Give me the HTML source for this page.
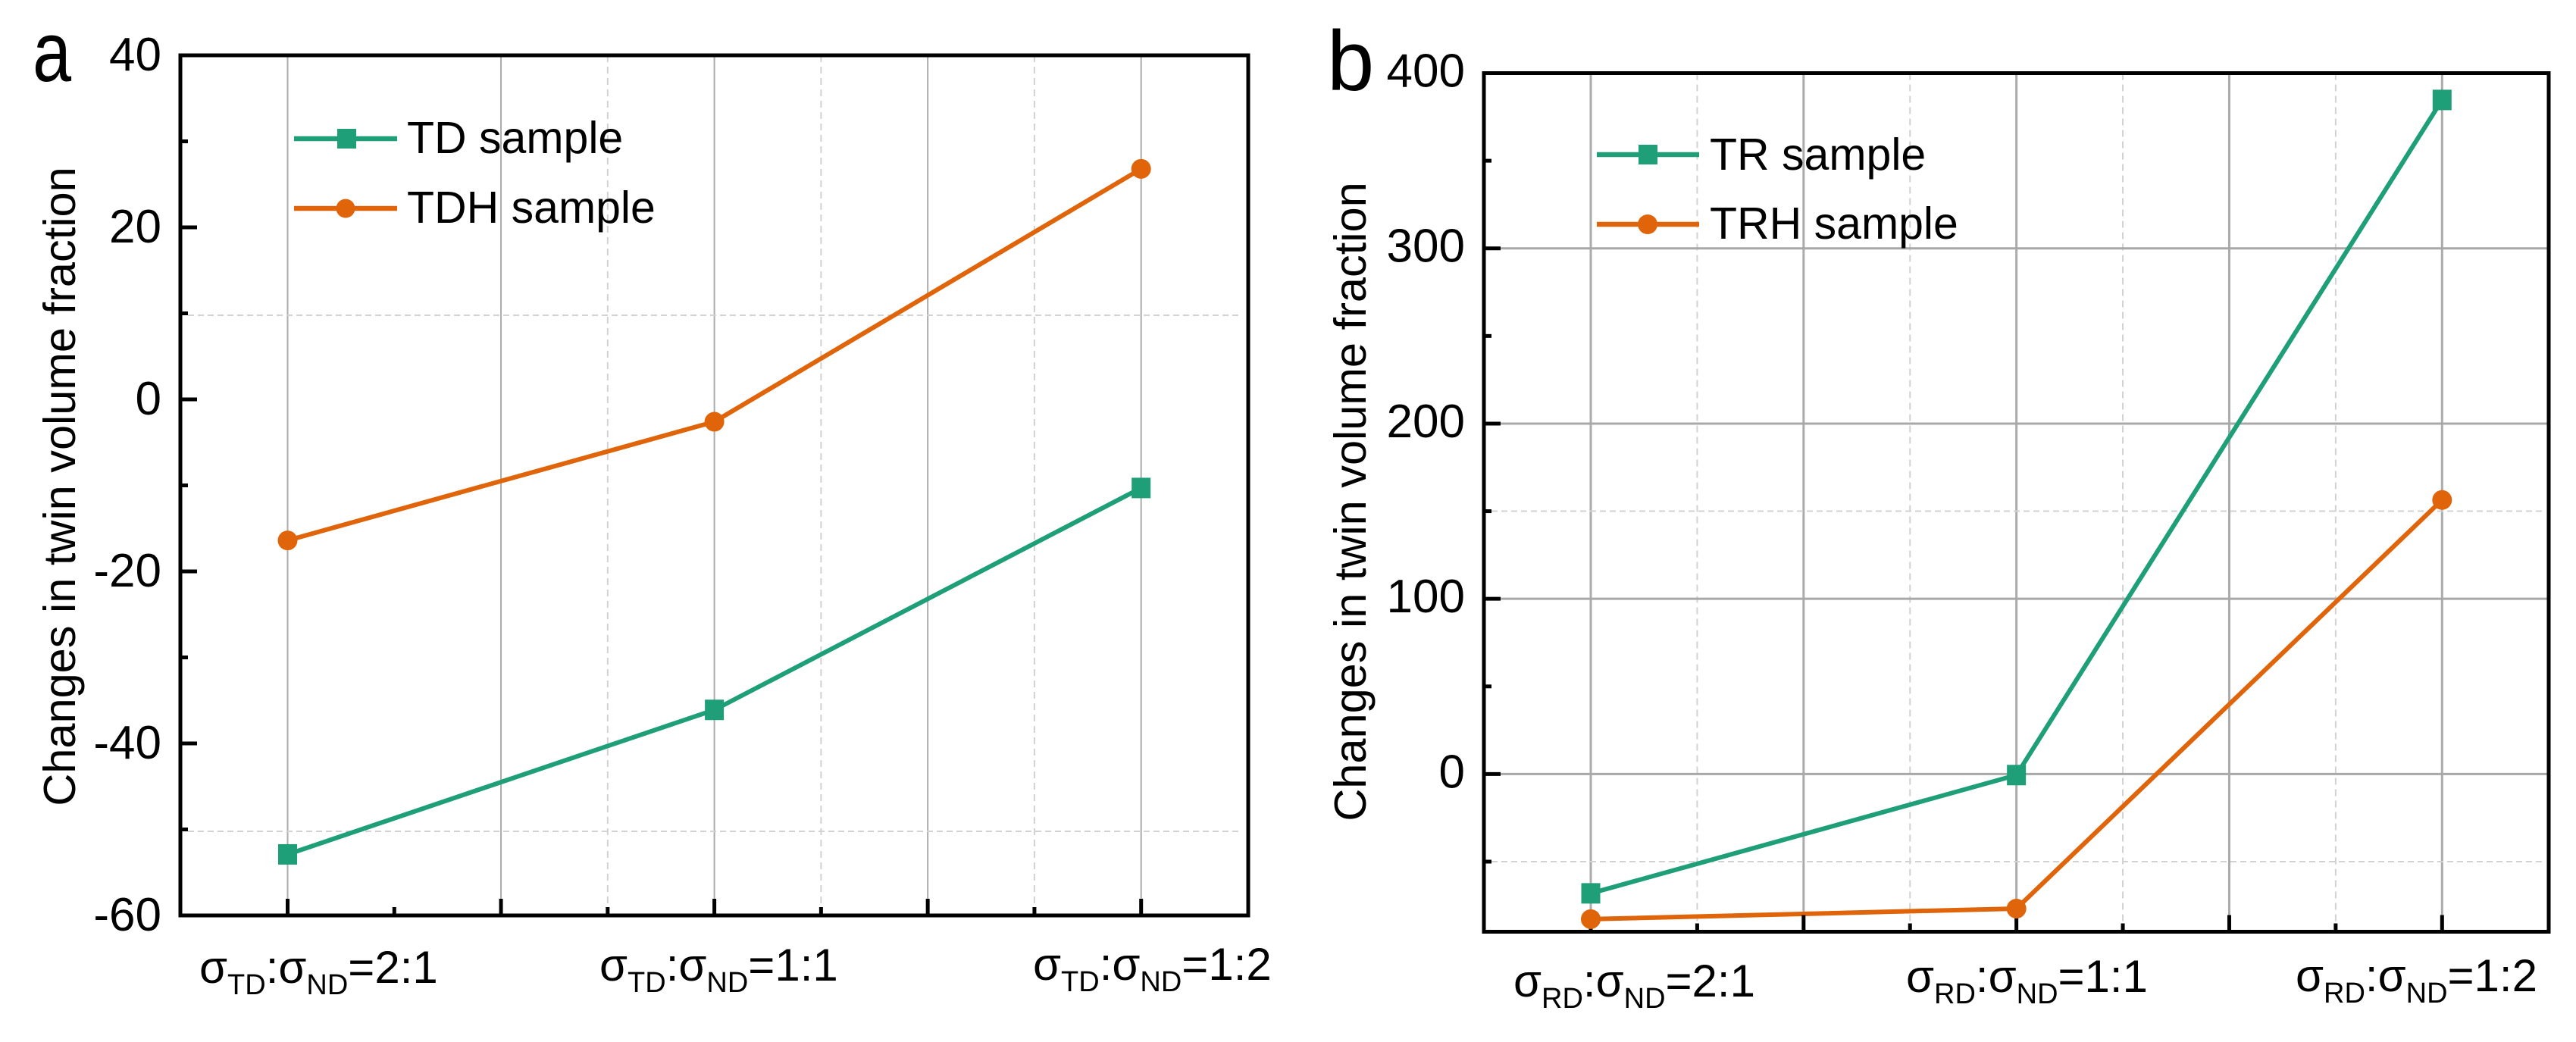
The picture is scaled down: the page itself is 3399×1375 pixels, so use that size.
<!DOCTYPE html>
<html lang="en">
<head>
<meta charset="utf-8">
<title>Changes in twin volume fraction</title>
<style>
  html, body { margin: 0; padding: 0; background: #fff; }
  svg { display: block; }
  text { font-family: "Liberation Sans", Arial, sans-serif; fill: #000; }
</style>
</head>
<body>
<svg id="figure" xmlns="http://www.w3.org/2000/svg" width="3399" height="1375" viewBox="0 0 3399 1375">
  <rect x="0" y="0" width="3399" height="1375" fill="#ffffff"/>
  <g id="panel-a"></g>
  <g id="panel-b"></g>

  <text transform="translate(43 107) scale(0.82 1)" font-size="112">a</text>
  <text x="1751" y="119" font-size="112">b</text>

  <text transform="translate(99 642) rotate(-90)" text-anchor="middle" font-size="59.5">Changes in twin volume fraction</text>
  <text transform="translate(1802 662) rotate(-90)" text-anchor="middle" font-size="59.5">Changes in twin volume fraction</text>

  <text x="263" y="1297" font-size="60">σ<tspan font-size="38" dy="15">TD</tspan><tspan dy="-15">:σ</tspan><tspan font-size="38" dy="15">ND</tspan><tspan dy="-15">=2:1</tspan></text>
  <text x="791" y="1294" font-size="60">σ<tspan font-size="38" dy="15">TD</tspan><tspan dy="-15">:σ</tspan><tspan font-size="38" dy="15">ND</tspan><tspan dy="-15">=1:1</tspan></text>
  <text x="1363" y="1293" font-size="60">σ<tspan font-size="38" dy="15">TD</tspan><tspan dy="-15">:σ</tspan><tspan font-size="38" dy="15">ND</tspan><tspan dy="-15">=1:2</tspan></text>

  <text x="1997" y="1315" font-size="60">σ<tspan font-size="38" dy="15">RD</tspan><tspan dy="-15">:σ</tspan><tspan font-size="38" dy="15">ND</tspan><tspan dy="-15">=2:1</tspan></text>
  <text x="2515" y="1309" font-size="60">σ<tspan font-size="38" dy="15">RD</tspan><tspan dy="-15">:σ</tspan><tspan font-size="38" dy="15">ND</tspan><tspan dy="-15">=1:1</tspan></text>
  <text x="3029" y="1308" font-size="60">σ<tspan font-size="38" dy="15">RD</tspan><tspan dy="-15">:σ</tspan><tspan font-size="38" dy="15">ND</tspan><tspan dy="-15">=1:2</tspan></text>

  <g>
    <g>
      <line x1="388" y1="183" x2="524" y2="183" stroke="#1f9f78" stroke-width="6.5"/>
      <rect x="445" y="170" width="25" height="26" fill="#1f9f78"/>
      <text x="537" y="202" font-size="59">TD sample</text>
    </g>
    <g>
      <line x1="388" y1="275" x2="524" y2="275" stroke="#e0640a" stroke-width="6.5"/>
      <circle cx="456" cy="275" r="12.5" fill="#e0640a"/>
      <text x="537" y="294" font-size="59">TDH sample</text>
    </g>
  </g>

  <g>
    <g>
      <line x1="2107" y1="204" x2="2242" y2="204" stroke="#1f9f78" stroke-width="6.5"/>
      <rect x="2162" y="191" width="25" height="26" fill="#1f9f78"/>
      <text x="2256" y="224" font-size="59">TR sample</text>
    </g>
    <g>
      <line x1="2107" y1="296" x2="2242" y2="296" stroke="#e0640a" stroke-width="6.5"/>
      <circle cx="2174" cy="296" r="13" fill="#e0640a"/>
      <text x="2256" y="315" font-size="59">TRH sample</text>
    </g>
  </g>
</svg>

<script>
// Panel a data
const categoriesA = ["2:1", "1:1", "1:2"];
const tdValues = [-52.9, -36.1, -10.3];
const tdhValues = [-16.4, -2.6, 26.8];
const yTickLabelsA = [40, 20, 0, -20, -40, -60];
const yMinorTicksA = [30, 10, -10, -30, -50];
const yDashedGridA = [10, -50];
const ySolidGridA = [];
const xDashedGridA = [1.75, 2.25, 2.75];

// Panel b data
const categoriesB = ["2:1", "1:1", "1:2"];
const trValues = [-68.1, -0.6, 384.7];
const trhValues = [-82.8, -76.8, 156.4];
const yTickLabelsB = [400, 300, 200, 100, 0];
const yMinorTicksB = [350, 250, 150, 50, -50];
const yDashedGridB = [150, -50];
const ySolidGridB = [300, 200, 100, 0];
const xDashedGridB = [1.25, 1.75, 2.25, 2.75];

// Shared x axis positions (category index units)
const xMajorTicks = [1, 1.5, 2, 2.5, 3];
const xMinorTicks = [1.25, 1.75, 2.25, 2.75];

const GREEN = "#1f9f78";
const ORANGE = "#e0640a";
const NS = "http://www.w3.org/2000/svg";

function make(parent, tag, attrs) {
  const el = document.createElementNS(NS, tag);
  for (const k in attrs) el.setAttribute(k, attrs[k]);
  parent.appendChild(el);
  return el;
}

function drawPanel(p) {
  const g = document.getElementById(p.id);
  const xScale = v => p.x1 + (v - 1) * (p.x3 - p.x1) / 2;
  const yScale = v => p.bottom - (v - p.yMin) * (p.bottom - p.top) / (p.yMax - p.yMin);

  // Grid
  p.xMajor.forEach(v => {
    const el = make(g, "line", { x1: xScale(v), x2: xScale(v), y1: p.top, y2: p.bottom, stroke: "#ababab", "stroke-width": p.gridWidth });
    
    
  });
  p.xDashed.forEach(v => {
    const el = make(g, "line", { x1: xScale(v), x2: xScale(v), y1: p.top, y2: p.bottom, stroke: "#d2d2d2", "stroke-width": 2, "stroke-dasharray": "9 6" });
    
    
  });
  p.ySolid.forEach(v => {
    const el = make(g, "line", { x1: p.left, x2: p.right, y1: yScale(v), y2: yScale(v), stroke: "#a8a8a8", "stroke-width": p.gridWidth });
    
    
  });
  p.yDashed.forEach(v => {
    const y = yScale(v) + p.dashedGridShift;
    const el = make(g, "line", { x1: p.left + 10, x2: p.right - 8, y1: y, y2: y, stroke: "#d2d2d2", "stroke-width": 2, "stroke-dasharray": "8 5" });
    
    
  });

  // Series lines
  p.series.forEach(s => {
    const points = s.values.map((v, i) => xScale(i + 1) + "," + yScale(v)).join(" ");
    const line = make(g, "polyline", { points: points, fill: "none", stroke: s.color, "stroke-width": 6, "stroke-linejoin": "round" });
    
    
  });

  // Spines
  const frame = make(g, "rect", { x: p.left, y: p.top, width: p.right - p.left, height: p.bottom - p.top, fill: "none", stroke: "#000", "stroke-width": 5 });
  
  

  // Y ticks
  p.yLabels.forEach(v => {
    const tick = make(g, "line", { x1: p.left, x2: p.left + 22, y1: yScale(v), y2: yScale(v), stroke: "#000", "stroke-width": 5 });
    
    
    const label = make(g, "text", { x: p.left - 25, y: yScale(v) + p.yLabelOffset, "text-anchor": "end", "font-size": 62 });
    
    
    label.textContent = String(v);
  });
  p.yMinor.forEach(v => {
    const tick = make(g, "line", { x1: p.left, x2: p.left + 10, y1: yScale(v), y2: yScale(v), stroke: "#000", "stroke-width": 5 });
    
    
  });

  // X ticks
  p.xMajor.forEach(v => {
    const tick = make(g, "line", { x1: xScale(v), x2: xScale(v), y1: p.bottom, y2: p.bottom - 22, stroke: "#000", "stroke-width": 5 });
    
    
  });
  p.xMinor.forEach(v => {
    const tick = make(g, "line", { x1: xScale(v), x2: xScale(v), y1: p.bottom, y2: p.bottom - 11, stroke: "#000", "stroke-width": 5 });
    
    
  });

  // Markers
  p.series.forEach(s => {
    s.values.forEach((v, i) => {
      let m;
      if (s.shape === "square") {
        m = make(g, "rect", { x: xScale(i + 1) - 12.5, y: yScale(v) - 13.5, width: 25, height: 27, fill: s.color });
      } else {
        m = make(g, "circle", { cx: xScale(i + 1), cy: yScale(v), r: 13, fill: s.color });
      }
      
      
    });
  });
}

drawPanel({
  id: "panel-a", left: 238, right: 1647, top: 73, bottom: 1208,
  x1: 379.5, x3: 1505.7, yMin: -60, yMax: 40, yLabelOffset: 20, gridWidth: 2, dashedGridShift: 2.5,
  xMajor: xMajorTicks, xMinor: xMinorTicks, xDashed: xDashedGridA,
  ySolid: ySolidGridA, yDashed: yDashedGridA,
  yLabels: yTickLabelsA, yMinor: yMinorTicksA,
  series: [
    { name: "td-sample", values: tdValues, color: GREEN, shape: "square" },
    { name: "tdh-sample", values: tdhValues, color: ORANGE, shape: "circle" }
  ]
});

drawPanel({
  id: "panel-b", left: 1958, right: 3363, top: 96.5, bottom: 1229.5,
  x1: 2099, x3: 3222.3, yMin: -90, yMax: 400, yLabelOffset: 18, gridWidth: 3, dashedGridShift: 0,
  xMajor: xMajorTicks, xMinor: xMinorTicks, xDashed: xDashedGridB,
  ySolid: ySolidGridB, yDashed: yDashedGridB,
  yLabels: yTickLabelsB, yMinor: yMinorTicksB,
  series: [
    { name: "tr-sample", values: trValues, color: GREEN, shape: "square" },
    { name: "trh-sample", values: trhValues, color: ORANGE, shape: "circle" }
  ]
});
</script>
</body>
</html>
